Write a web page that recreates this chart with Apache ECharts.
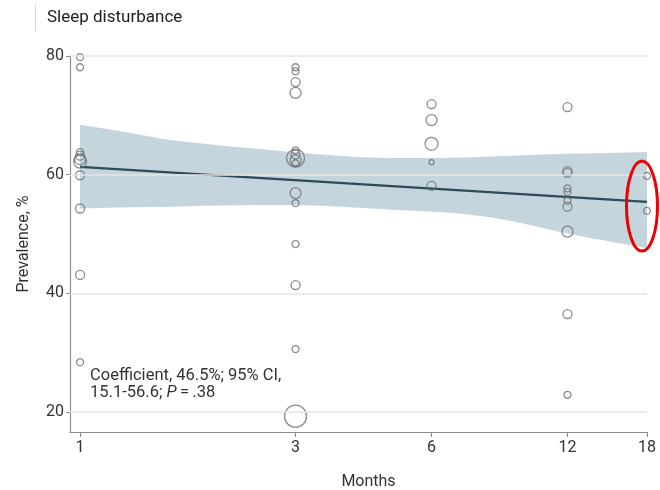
<!DOCTYPE html>
<html>
<head>
<meta charset="utf-8">
<script src="https://cdn.jsdelivr.net/npm/echarts@6/dist/echarts.min.js"></script>
<style>html,body{margin:0;padding:0;background:#fff}#c{width:660px;height:490px}</style>
</head>
<body>
<div id="c"></div>
<script>
// ---- data ----
const titleText = 'Sleep disturbance';
const xTickMonths = [1, 3, 6, 12, 18];
const yTickValues = [20, 40, 60, 80];

// individual studies: month, prevalence (%), relative study weight (0 = tiny ... 6 = largest)
const studyMonths = [
  1, 1, 1, 1, 1, 1, 1, 1, 1, 1,
  3, 3, 3, 3, 3, 3, 3, 3, 3, 3, 3, 3, 3, 3, 3,
  6, 6, 6, 6, 6,
  12, 12, 12, 12, 12, 12, 12, 12, 12, 12,
  18, 18
];
const studyPrevalence = [
  79.8, 78.1, 63.8, 63.2, 62.6, 62.2, 59.9, 54.3, 43.1, 28.4,
  78.1, 77.4, 75.6, 73.8, 64.1, 63.4, 62.8, 62.4, 56.9, 55.2, 48.3, 41.4, 30.6, 19.3, 61.9,
  71.9, 69.2, 65.2, 62.1, 58.1,
  71.4, 60.6, 60.3, 57.7, 57.1, 55.6, 54.6, 50.4, 36.5, 22.9,
  59.8, 53.9
];
const studyWeight = [
  1, 1, 1, 2, 3, 4, 2, 2, 2, 1,
  1, 1, 2, 3, 1, 2, 5, 3, 3, 1, 1, 2, 1, 6, 1,
  2, 3, 4, 0, 2,
  2, 2, 2, 1, 1, 1, 2, 3, 2, 1,
  1, 1
];

// meta-regression fit line
const fitMonths = [1, 18];
const fitValues = [61.3, 55.4];

// 95% confidence band edges
const bandMonths = [1, 1.3, 1.6, 2, 2.6, 3.3, 4.4, 5.5, 7, 9, 11.5, 14, 18];
const bandUpper  = [68.4, 67.0, 65.8, 65.0, 64.2, 63.5, 62.9, 62.8, 62.9, 63.2, 63.5, 63.6, 63.8];
const bandLower  = [54.3, 54.5, 54.6, 54.8, 54.9, 54.8, 54.3, 53.9, 53.4, 52.2, 50.4, 49.1, 47.6];

const annotationLine1 = 'Coefficient, 46.5%; 95% CI,';
const annotationLine2a = '15.1-56.6; ';
const annotationLine2b = 'P';
const annotationLine2c = '\u2009=\u2009.38';

// ---- chart ----
const FONT = 'Roboto, "Noto Sans", sans-serif';
const sizeByWeight = [5, 7, 9, 11, 13, 18, 22];
const lx = m => Math.log(m);

const chart = echarts.init(document.getElementById('c'), null, {renderer: 'canvas'});

// smooth path (Catmull-Rom -> cubic Bezier) through a list of pixel points
function curveThrough(pts, startCmd) {
  let d = startCmd + pts[0][0] + ',' + pts[0][1];
  for (let i = 0; i < pts.length - 1; i++) {
    const p0 = pts[Math.max(0, i - 1)], p1 = pts[i], p2 = pts[i + 1], p3 = pts[Math.min(pts.length - 1, i + 2)];
    const c1 = [p1[0] + (p2[0] - p0[0]) / 6, p1[1] + (p2[1] - p0[1]) / 6];
    const c2 = [p2[0] - (p3[0] - p1[0]) / 6, p2[1] - (p3[1] - p1[1]) / 6];
    d += ' C' + c1[0] + ',' + c1[1] + ' ' + c2[0] + ',' + c2[1] + ' ' + p2[0] + ',' + p2[1];
  }
  return d;
}

function renderBand(params, api) {
  if (params.dataIndex !== 0) return;
  const up = bandMonths.map((m, i) => api.coord([lx(m), bandUpper[i]]));
  const lo = bandMonths.map((m, i) => api.coord([lx(m), bandLower[i]])).reverse();
  const d = curveThrough(up, 'M') + ' ' + curveThrough(lo, 'L') + ' Z';
  return {
    type: 'path',
    shape: {pathData: d},
    style: {fill: '#c4d5de', stroke: null}
  };
}

const option = {
  animation: false,
  backgroundColor: '#fff',
  textStyle: {fontFamily: FONT},
  grid: {left: 70, right: 13, top: 56, bottom: 58, containLabel: false, outerBoundsMode: 'none'},
  xAxis: {
    type: 'value',
    min: Math.log(0.95),
    max: Math.log(18),
    name: 'Months',
    nameLocation: 'middle',
    nameGap: 42,
    nameTextStyle: {fontFamily: FONT, fontSize: 16, color: '#333', padding: [0, 0, 0, 20]},
    axisLine: {show: true, onZero: false, lineStyle: {color: '#8a8a8a', width: 1.2}},
    axisTick: {show: true, length: 5, inside: false, customValues: xTickMonths.map(lx), lineStyle: {color: '#8a8a8a'}},
    axisLabel: {
      customValues: xTickMonths.map(lx),
      formatter: v => String(Math.round(Math.exp(v))),
      fontFamily: FONT, fontSize: 16, color: '#333', margin: 8
    },
    splitLine: {show: false}
  },
  yAxis: {
    type: 'value',
    min: 16.63,
    max: 80,
    name: 'Prevalence, %',
    nameLocation: 'middle',
    nameGap: 18,
    nameRotate: 90,
    nameTextStyle: {fontFamily: FONT, fontSize: 16, color: '#333', padding: [0, 0, 20, 0]},
    axisLine: {show: true, onZero: false, lineStyle: {color: '#8a8a8a', width: 1.2}},
    axisTick: {show: true, length: 4, customValues: yTickValues, lineStyle: {color: '#8a8a8a'}},
    axisLabel: {customValues: yTickValues, fontFamily: FONT, fontSize: 16, color: '#333', margin: 6},
    splitLine: {show: false}
  },
  series: [
    {
      name: 'grid',
      type: 'line',
      z: 1,
      symbol: 'none',
      silent: true,
      lineStyle: {opacity: 0},
      data: [],
      markLine: {
        silent: true,
        symbol: 'none',
        label: {show: false},
        lineStyle: {color: '#e4e4e4', width: 1.5, type: 'solid'},
        data: yTickValues.map(v => ({yAxis: v}))
      }
    },
    {
      name: 'ci',
      type: 'custom',
      z: 2,
      silent: true,
      renderItem: renderBand,
      data: [0]
    },
    {
      name: 'fit',
      type: 'line',
      z: 3,
      symbol: 'none',
      silent: true,
      lineStyle: {color: '#2d4c57', width: 2.2},
      data: fitMonths.map((m, i) => [lx(m), fitValues[i]])
    },
    {
      name: 'studies',
      type: 'scatter',
      z: 4,
      silent: true,
      symbol: 'circle',
      symbolSize: val => sizeByWeight[val[2]],
      itemStyle: {color: 'rgba(0,0,0,0)', borderColor: '#717171', borderWidth: 1.3},
      data: studyMonths.map((m, i) => [lx(m), studyPrevalence[i], studyWeight[i]])
    }
  ]
};
chart.setOption(option);

// annotations (red highlight ellipse anchored to the 18-month studies)
const p18 = chart.convertToPixel({gridIndex: 0}, [lx(18), 54.7]);
chart.setOption({
  graphic: [
    {type: 'line', shape: {x1: 35.5, y1: 4, x2: 35.5, y2: 31}, style: {stroke: '#d8d8d8', lineWidth: 1}},
    {type: 'text', left: 47, top: 9, style: {text: titleText, font: '17px ' + FONT, fill: '#222'}},
    {
      type: 'text', left: 90, top: 367,
      style: {
        text: '{n|' + annotationLine1 + '}\n{n|' + annotationLine2a + '}{i|' + annotationLine2b + '}{n|' + annotationLine2c + '}',
        rich: {
          n: {fontFamily: FONT, fontSize: 16.5, fill: '#333', lineHeight: 17},
          i: {fontFamily: FONT, fontSize: 16.5, fontStyle: 'italic', fill: '#333', lineHeight: 17}
        }
      }
    },
    {type: 'ellipse', z: 100, shape: {cx: p18[0] - 5, cy: p18[1], rx: 15.5, ry: 45}, style: {fill: 'none', stroke: '#ee0000', lineWidth: 3}}
  ]
});
</script>
</body>
</html>
